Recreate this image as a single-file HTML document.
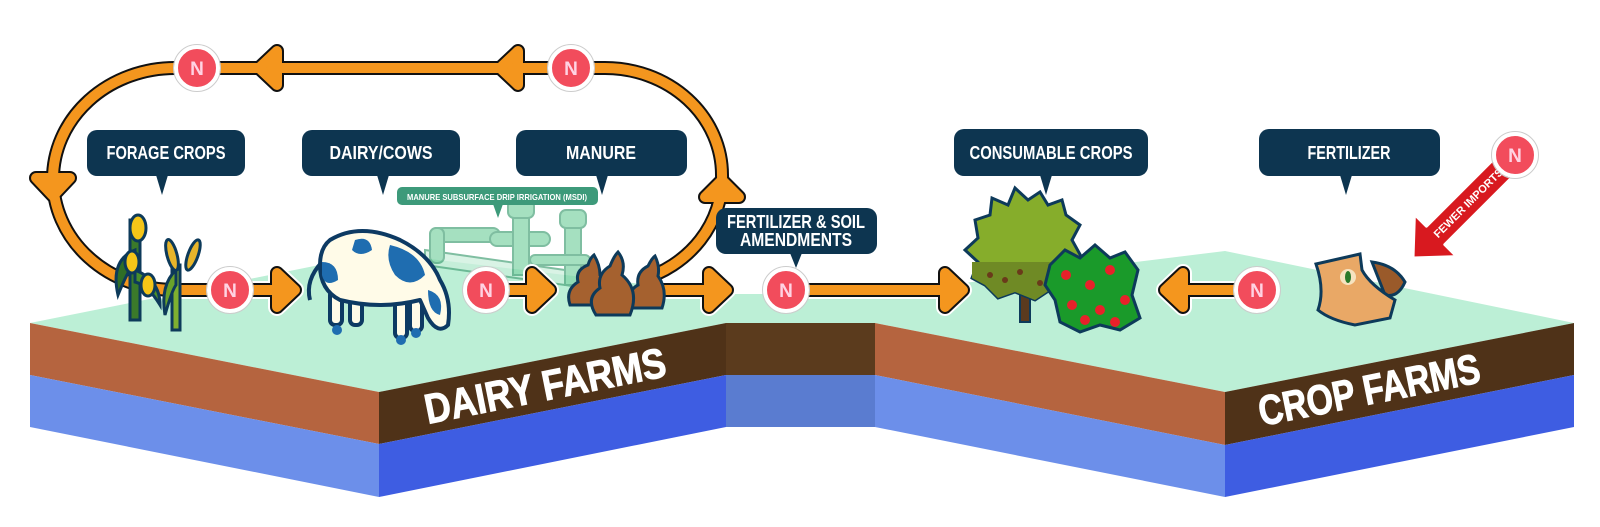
<!DOCTYPE html>
<html><head><meta charset="utf-8"><style>
html,body{margin:0;padding:0;background:#fff;}
svg{display:block;}
.lb{font-family:"Liberation Sans",sans-serif;font-weight:bold;fill:#fff;}
</style></head><body>
<svg width="1600" height="527" viewBox="0 0 1600 527" xmlns="http://www.w3.org/2000/svg">
<defs>
<g id="ar">
 <path fill="none" d="M230,290 L175,290 A122 111 0 0 1 53,179 A122 111 0 0 1 175,68 L605,68 A117 107 0 0 1 722,175 A117 107 0 0 1 640,280"/>
 <path fill="none" d="M248,290 L285,290 M500,290 L540,290 M640,290 L720,290 M805,290 L955,290 M1238,290 L1172,290"/>
 <polygon points="277,273 295,290 277,307"/>
 <polygon points="532,273 550,290 532,307"/>
 <polygon points="709,273 727,290 709,307"/>
 <polygon points="945,273 963,290 945,307"/>
 <polygon points="1183,273 1165,290 1183,307"/>
 <polygon points="277,51 259,68 277,85"/>
 <polygon points="518,51 500,68 518,85"/>
 <polygon points="36,178 53,196 70,178"/>
 <polygon points="705,197 722,180 739,197"/>
</g>
<g id="nc"><circle r="21" fill="#f24c5c" stroke="#fff" stroke-width="4"/><circle r="23.5" fill="none" stroke="#ccc" stroke-width="1"/><text y="7" text-anchor="middle" font-family="Liberation Sans,sans-serif" font-weight="bold" font-size="19" fill="#ffd3e3">N</text></g>
</defs>

<!-- ground blocks -->
<polygon points="30,323 379,253 726,294 875,294 1225,251 1574,323 1225,392 875,323 726,323 379,392" fill="#bcefd6"/>
<polygon points="30,323 379,392 379,444 30,375" fill="#b5643f"/>
<polygon points="30,375 379,444 379,497 30,427" fill="#6c8fea"/>
<polygon points="379,392 726,323 726,375 379,444" fill="#4f3218"/>
<polygon points="379,444 726,375 726,427 379,497" fill="#3e5de2"/>
<rect x="726" y="323" width="149" height="52" fill="#5b3b1d"/>
<rect x="726" y="375" width="149" height="52" fill="#5a7cd0"/>
<polygon points="875,323 1225,392 1225,445 875,375" fill="#b5643f"/>
<polygon points="875,375 1225,445 1225,497 875,427" fill="#6c8fea"/>
<polygon points="1225,392 1574,323 1574,375 1225,445" fill="#4f3218"/>
<polygon points="1225,445 1574,375 1574,427 1225,497" fill="#3e5de2"/>
<text class="lb" font-size="42" transform="translate(548,400) rotate(-11.3)" text-anchor="middle" textLength="245" lengthAdjust="spacingAndGlyphs" stroke="#fff" stroke-width="1">DAIRY FARMS</text>
<text class="lb" font-size="42" transform="translate(1372,404) rotate(-11.3)" text-anchor="middle" textLength="225" lengthAdjust="spacingAndGlyphs" stroke="#fff" stroke-width="1">CROP FARMS</text>

<!-- MSDI pumps (faded) -->
<g opacity="0.7" fill="#7fd3a6" stroke="#4aa37a" stroke-width="2">
 <polygon points="425,250 600,275 600,290 425,265" fill="#c9eedb"/>
 <rect x="430" y="228" width="70" height="14" rx="7"/>
 <rect x="430" y="228" width="14" height="35" rx="6"/>
 <rect x="490" y="232" width="60" height="14" rx="7"/>
 <rect x="513" y="205" width="16" height="70"/>
 <rect x="508" y="200" width="26" height="18" rx="6"/>
 <rect x="565" y="215" width="16" height="70"/>
 <rect x="560" y="210" width="26" height="18" rx="6"/>
 <rect x="530" y="255" width="60" height="10" rx="5"/>
</g>

<!-- arrows -->
<use href="#ar" stroke="#fff" fill="#fff" stroke-width="18" stroke-linejoin="round"/>
<use href="#ar" stroke="#111" fill="#111" stroke-width="14" stroke-linejoin="round"/>
<use href="#ar" stroke="#f4961e" fill="#f4961e" stroke-width="10" stroke-linejoin="round"/>

<!-- red Fewer Imports arrow -->
<g transform="translate(1413,258) rotate(-45)">
 <polygon points="0,0 32,-30 32,-13 130,-13 130,13 32,13 32,30" fill="#d8191f" stroke="#fff" stroke-width="3" stroke-linejoin="round"/>
 <text x="78" y="4" text-anchor="middle" font-family="Liberation Sans,sans-serif" font-weight="bold" font-size="11" fill="#fff">FEWER IMPORTS</text>
</g>

<!-- corn / wheat -->
<g stroke="#0d3a5a" stroke-width="3">
 <rect x="130" y="220" width="10" height="100" fill="#3b7a2a"/>
 <path d="M135,250 Q110,260 118,295 Q128,270 135,262Z" fill="#2f6e26"/>
 <path d="M135,270 Q160,280 160,305 Q148,285 135,282Z" fill="#4a8f2a"/>
 <ellipse cx="138" cy="228" rx="8" ry="13" fill="#f5c518"/>
 <ellipse cx="132" cy="262" rx="7" ry="11" fill="#f5c518"/>
 <ellipse cx="148" cy="285" rx="7" ry="11" fill="#f5c518"/>
 <rect x="172" y="265" width="8" height="65" fill="#7fb030"/>
 <path d="M176,270 Q160,285 165,315 Q172,290 176,285Z" fill="#6aa22a"/>
 <ellipse cx="172" cy="255" rx="5" ry="16" fill="#e8b52a" transform="rotate(-15 172 255)"/>
 <ellipse cx="193" cy="255" rx="5" ry="16" fill="#e8b52a" transform="rotate(20 193 255)"/>
</g>

<!-- cow -->
<g stroke="#0d3a63" stroke-width="4" stroke-linejoin="round">
 <rect x="330" y="290" width="12" height="35" rx="5" fill="#fffbe8"/>
 <rect x="350" y="295" width="12" height="30" rx="5" fill="#fffbe8"/>
 <rect x="395" y="300" width="12" height="38" rx="5" fill="#fffbe8"/>
 <rect x="410" y="296" width="12" height="35" rx="5" fill="#fffbe8"/>
 <path d="M330,240 Q360,222 400,240 Q430,255 440,280 Q452,300 448,325 Q438,335 428,318 L420,300 Q380,310 340,300 Q320,290 320,265 Q320,248 330,240Z" fill="#fffbe8"/>
 <path d="M322,262 Q305,280 310,300" fill="none"/>
</g>
<g fill="#1f6db0">
 <path d="M355,240 Q370,235 372,250 Q360,258 352,250Z"/>
 <path d="M390,245 Q420,252 425,275 Q410,290 395,275 Q385,260 390,245Z"/>
 <path d="M322,262 Q338,262 338,280 Q325,288 322,275Z"/>
 <path d="M428,290 Q445,295 440,315 Q428,312 428,290Z"/>
</g>
<circle cx="337" cy="330" r="5" fill="#1f6db0"/><circle cx="401" cy="340" r="5" fill="#1f6db0"/><circle cx="416" cy="333" r="5" fill="#1f6db0"/>

<!-- manure -->
<g stroke="#0d3a5a" stroke-width="3" fill="#a5612f">
 <path d="M570,305 Q565,290 578,282 Q575,270 588,265 Q590,258 594,255 Q600,265 600,275 Q612,285 605,305Z"/>
 <path d="M632,308 Q625,292 638,285 Q636,272 648,266 Q652,258 655,256 Q660,266 658,276 Q668,290 662,308Z"/>
 <path d="M596,315 Q585,298 600,288 Q597,274 610,266 Q614,256 618,252 Q626,262 622,275 Q640,290 630,315Z"/>
</g>

<!-- tree -->
<rect x="1020" y="280" width="10" height="42" fill="#5a3a1e" stroke="#0d3a5a" stroke-width="2"/>
<path d="M975,220 L990,215 L992,198 L1008,205 L1015,188 L1028,200 L1040,192 L1048,205 L1062,200 L1066,215 L1080,225 L1072,240 L1082,258 L1068,268 L1070,285 L1050,290 L1035,300 L1015,292 L998,298 L985,285 L972,278 L978,262 L965,250 L978,238Z" fill="#86ad2b" stroke="#0d3a5a" stroke-width="3"/>
<path d="M972,262 L1068,262 L1068,285 L1050,290 L1035,300 L1015,292 L998,298 L985,285 L972,278Z" fill="#6f8a25"/>
<g fill="#6a3a1a"><circle cx="990" cy="275" r="3"/><circle cx="1005" cy="280" r="3"/><circle cx="1020" cy="272" r="3"/><circle cx="1040" cy="283" r="3"/></g>
<!-- tomatoes -->
<path d="M1050,265 L1065,250 L1080,258 L1095,245 L1110,258 L1125,252 L1138,270 L1132,295 L1140,318 L1120,330 L1100,325 L1080,332 L1060,322 L1055,300 L1045,285Z" fill="#1a9a2a" stroke="#0d3a5a" stroke-width="3"/>
<g fill="#e8212a"><circle cx="1066" cy="275" r="5"/><circle cx="1090" cy="285" r="5"/><circle cx="1110" cy="270" r="5"/><circle cx="1072" cy="305" r="5"/><circle cx="1100" cy="310" r="5"/><circle cx="1125" cy="300" r="5"/><circle cx="1085" cy="320" r="5"/><circle cx="1115" cy="322" r="5"/></g>

<!-- fertilizer bag -->
<path d="M1372,262 Q1395,265 1405,282 Q1398,298 1385,295Z" fill="#9a5a2a" stroke="#0d3a5a" stroke-width="3"/>
<path d="M1316,264 L1360,254 L1362,270 Q1370,285 1395,300 L1390,318 L1355,325 Q1330,320 1318,310 Q1325,290 1316,264Z" fill="#e9a866" stroke="#0d3a5a" stroke-width="3"/>
<circle cx="1348" cy="277" r="8" fill="#f6e3c0"/><ellipse cx="1348" cy="277" rx="3" ry="6" fill="#2a7a2a"/>

<!-- label boxes -->
<g fill="#0d3550">
 <rect x="87" y="130" width="158" height="46" rx="10"/><polygon points="156,175 168,175 162,195"/>
 <rect x="302" y="130" width="158" height="46" rx="10"/><polygon points="377,175 389,175 383,195"/>
 <rect x="516" y="130" width="171" height="46" rx="10"/><polygon points="596,175 608,175 602,195"/>
 <rect x="716" y="208" width="161" height="46" rx="10"/><polygon points="790,253 802,253 796,268"/>
 <rect x="954" y="129" width="194" height="47" rx="10"/><polygon points="1040,175 1052,175 1046,195"/>
 <rect x="1259" y="129" width="181" height="47" rx="10"/><polygon points="1340,175 1352,175 1346,195"/>
</g>
<rect x="397" y="187" width="201" height="18" rx="5" fill="#3d9a7a"/><polygon points="493,204 503,204 498,218" fill="#3d9a7a"/>
<g class="lb" font-size="18" text-anchor="middle">
 <text x="166" y="159" textLength="119" lengthAdjust="spacingAndGlyphs">FORAGE CROPS</text>
 <text x="381" y="159" textLength="103" lengthAdjust="spacingAndGlyphs">DAIRY/COWS</text>
 <text x="601" y="159" textLength="70" lengthAdjust="spacingAndGlyphs">MANURE</text>
 <text x="1051" y="159" textLength="163" lengthAdjust="spacingAndGlyphs">CONSUMABLE CROPS</text>
 <text x="1349" y="159" textLength="83" lengthAdjust="spacingAndGlyphs">FERTILIZER</text>
 <text x="796" y="228" textLength="138" lengthAdjust="spacingAndGlyphs">FERTILIZER &amp; SOIL</text>
 <text x="796" y="246" textLength="112" lengthAdjust="spacingAndGlyphs">AMENDMENTS</text>
</g>
<text class="lb" x="497" y="200" font-size="8.5" text-anchor="middle" textLength="180" lengthAdjust="spacingAndGlyphs">MANURE SUBSURFACE DRIP IRRIGATION (MSDI)</text>

<!-- N circles -->
<use href="#nc" x="197" y="68"/>
<use href="#nc" x="571" y="68"/>
<use href="#nc" x="230" y="290"/>
<use href="#nc" x="486" y="290"/>
<use href="#nc" x="786" y="290"/>
<use href="#nc" x="1257" y="290"/>
<use href="#nc" x="1515" y="155"/>
</svg>
</body></html>
